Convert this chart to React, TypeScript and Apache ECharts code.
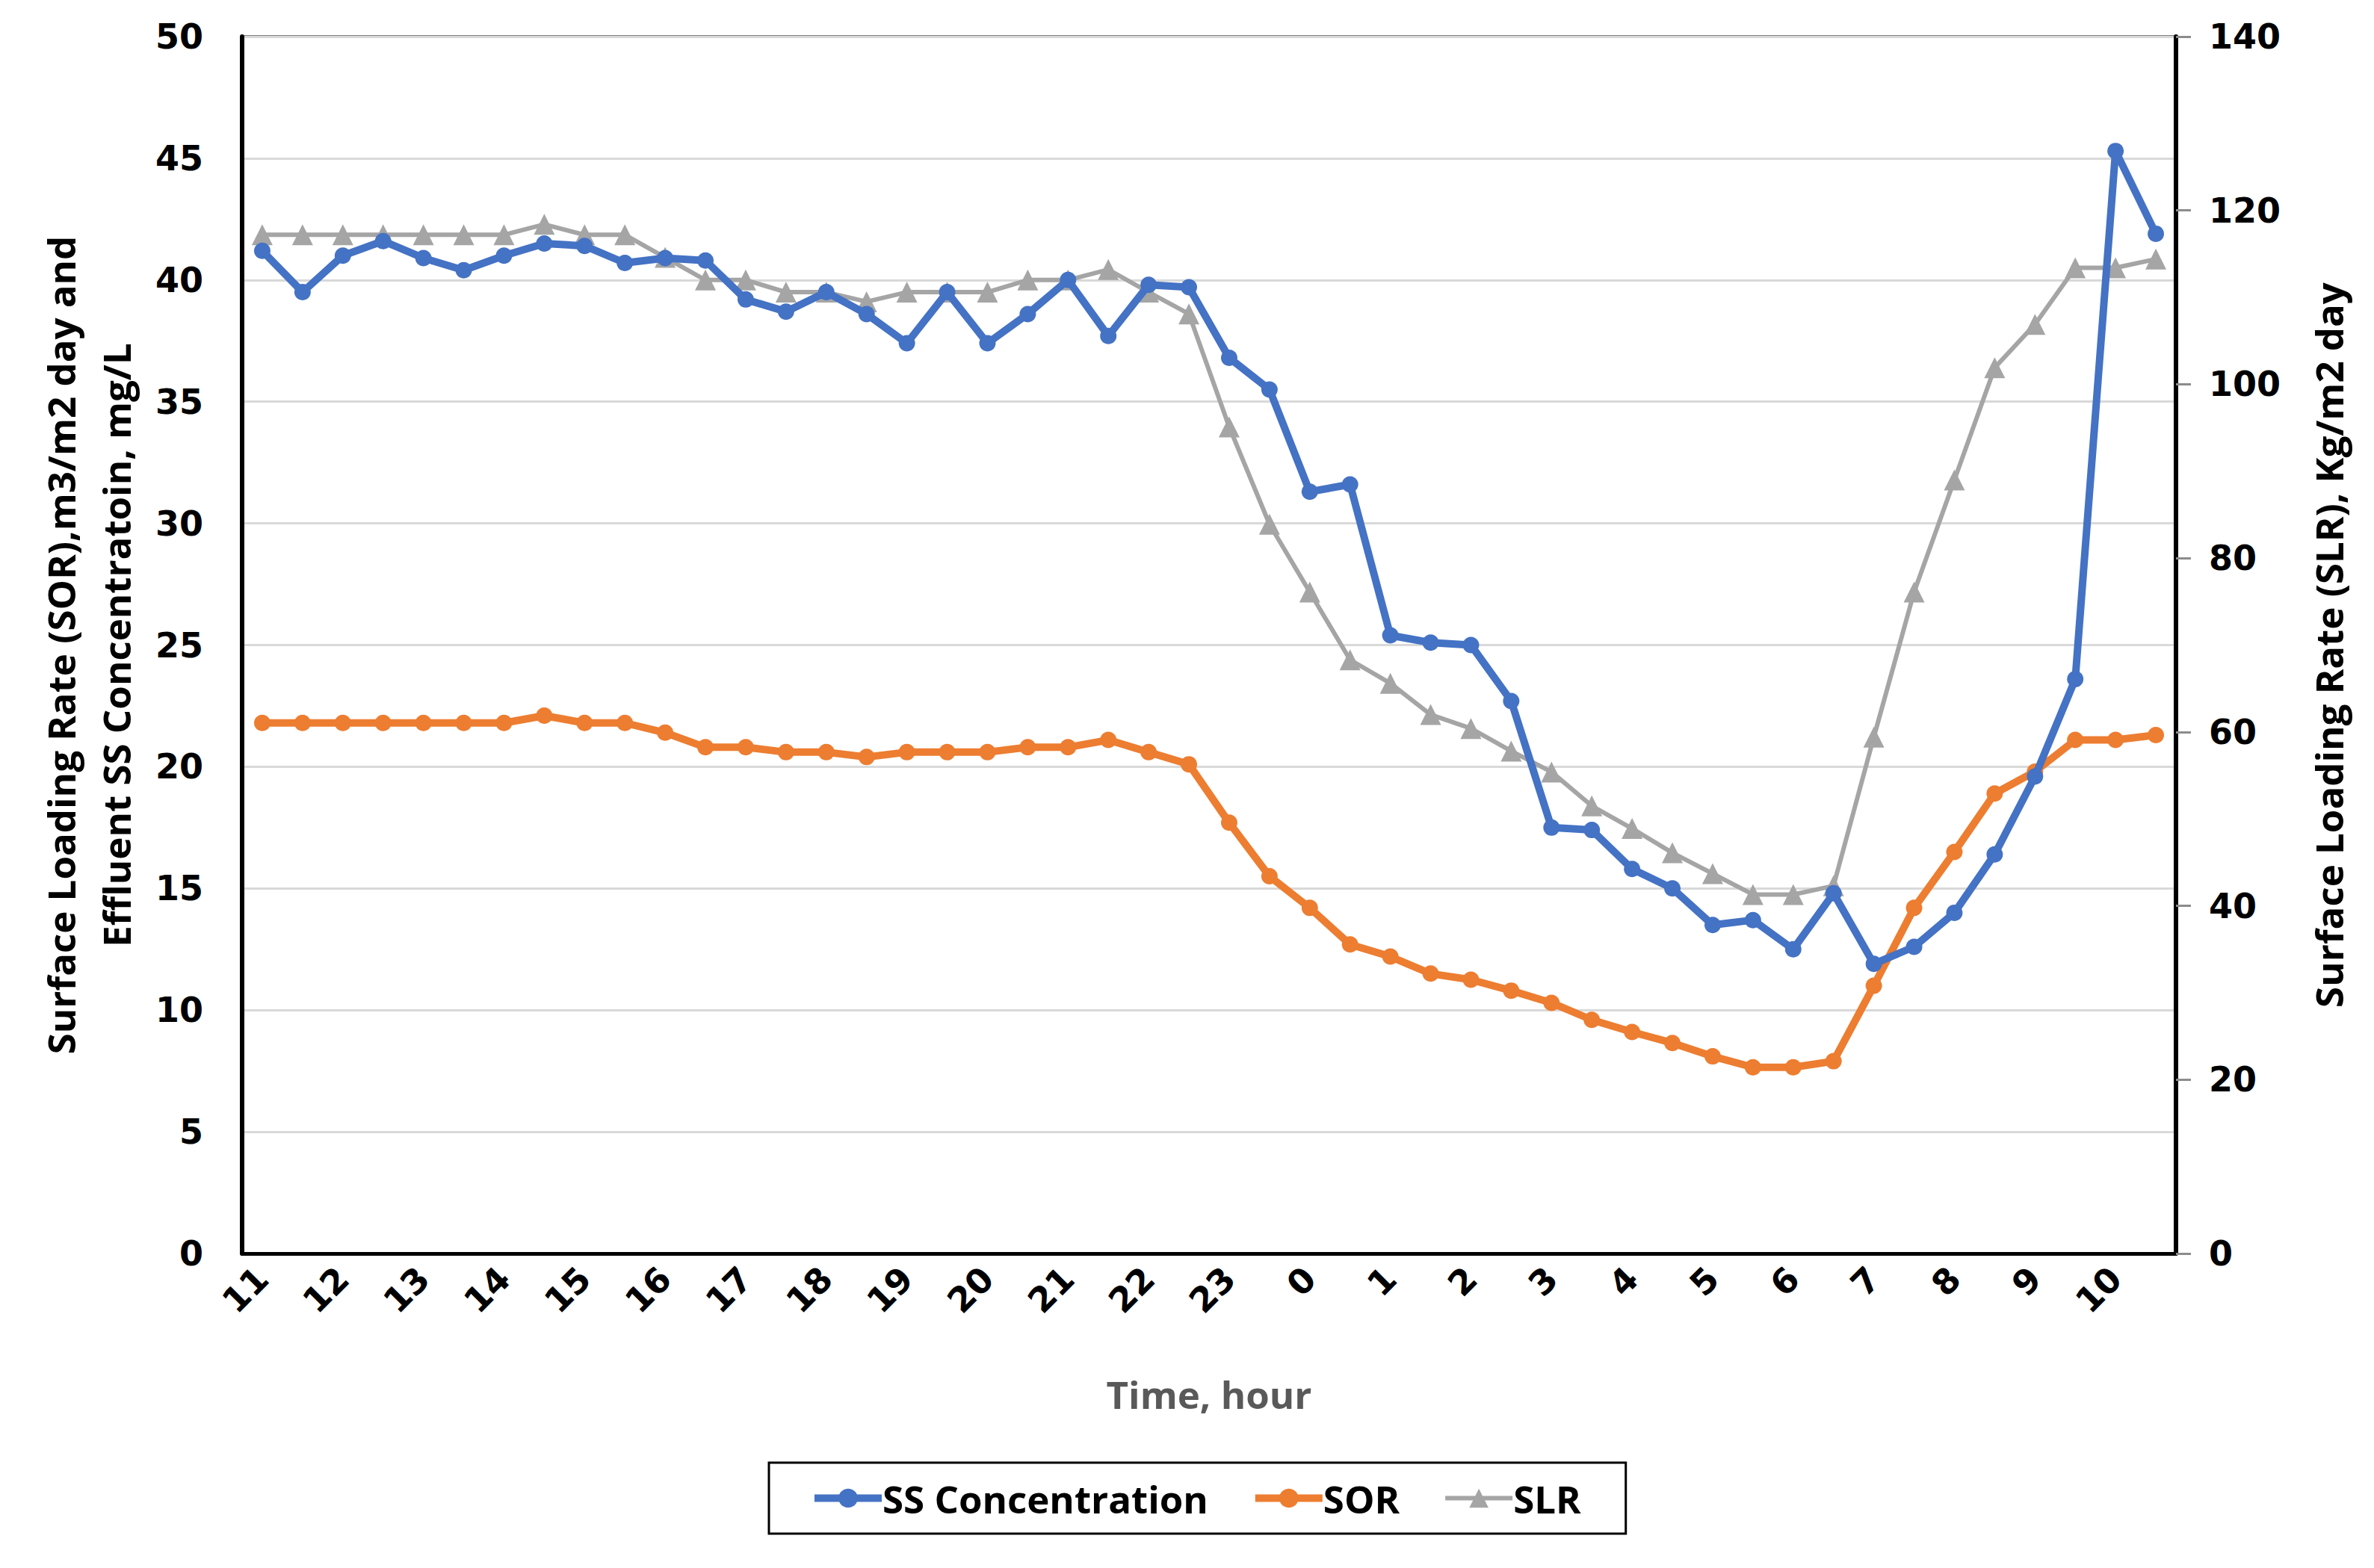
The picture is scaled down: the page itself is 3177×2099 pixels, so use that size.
import React, { useEffect, useRef } from "react";
import * as echarts from "echarts";

const times: string[] = [
  "11:00","11:30","12:00","12:30","13:00","13:30","14:00","14:30","15:00","15:30","16:00","16:30",
  "17:00","17:30","18:00","18:30","19:00","19:30","20:00","20:30","21:00","21:30","22:00","22:30",
  "23:00","23:30","0:00","0:30","1:00","1:30","2:00","2:30","3:00","3:30","4:00","4:30",
  "5:00","5:30","6:00","6:30","7:00","7:30","8:00","8:30","9:00","9:30","10:00","10:30",
];

const ssConcentration: number[] = [
  41.2, 39.5, 41.0, 41.6, 40.9, 40.4, 41.0, 41.5, 41.4, 40.7, 40.9, 40.8,
  39.2, 38.7, 39.5, 38.6, 37.4, 39.5, 37.4, 38.6, 40.0, 37.7, 39.8, 39.7,
  36.8, 35.5, 31.3, 31.6, 25.4, 25.1, 25.0, 22.7, 17.5, 17.4, 15.8, 15.0,
  13.5, 13.7, 12.5, 14.8, 11.9, 12.6, 14.0, 16.4, 19.6, 23.6, 45.3, 41.9,
];

const sor: number[] = [
  21.8, 21.8, 21.8, 21.8, 21.8, 21.8, 21.8, 22.1, 21.8, 21.8, 21.4, 20.8,
  20.8, 20.6, 20.6, 20.4, 20.6, 20.6, 20.6, 20.8, 20.8, 21.1, 20.6, 20.1,
  17.7, 15.5, 14.2, 12.7, 12.2, 11.5, 11.25, 10.8, 10.3, 9.6, 9.1, 8.65,
  8.1, 7.65, 7.65, 7.9, 11.0, 14.2, 16.5, 18.9, 19.8, 21.1, 21.1, 21.3,
];

const slr: number[] = [
  117.2, 117.2, 117.2, 117.2, 117.2, 117.2, 117.2, 118.4, 117.2, 117.2, 114.6, 112.0,
  112.0, 110.6, 110.6, 109.5, 110.6, 110.6, 110.6, 112.0, 112.0, 113.2, 110.6, 108.1,
  95.1, 83.9, 76.1, 68.3, 65.6, 62.0, 60.4, 57.8, 55.4, 51.5, 48.9, 46.1,
  43.7, 41.3, 41.3, 42.3, 59.4, 76.1, 89.0, 101.9, 106.9, 113.4, 113.4, 114.4,
];

const seriesNames: string[] = ["SS Concentration", "SOR", "SLR"];
const seriesColors: string[] = ["#4472C4", "#ED7D31", "#A5A5A5"];
const leftTitle = "Surface Loading Rate (SOR),m3/m2 day and\nEffluent SS Concentratoin, mg/L";
const rightTitle = "Surface Loading Rate (SLR), Kg/m2 day";
const xTitle = "Time, hour";

export default function App() {
  const ref = useRef<HTMLDivElement>(null);
  useEffect(() => {
    if (!ref.current) return;
    const chart = echarts.init(ref.current, undefined, { renderer: "svg" });
    const tickFont = {
      fontFamily: "DejaVu Sans",
      fontWeight: "bold" as const,
      fontSize: 46,
      color: "#000",
    };
    const titleFont = {
      fontFamily: "Open Sans",
      fontWeight: "bold" as const,
      fontSize: 51,
    };
    chart.setOption({
      animation: false,
      backgroundColor: "#fff",
      grid: {
        left: 316,
        right: 257,
        top: 41,
        bottom: 413,
        show: true,
        borderColor: "#000",
        borderWidth: 3,
        containLabel: false,
      },
      legend: {
        data: [
          { name: seriesNames[0], lineStyle: { width: 10, color: seriesColors[0] } },
          { name: seriesNames[1], lineStyle: { width: 10, color: seriesColors[1] } },
          { name: seriesNames[2], lineStyle: { width: 6, color: seriesColors[2] } },
        ],
        left: 1021,
        top: 1950,
        orient: "horizontal",
        borderColor: "#000",
        borderWidth: 3,
        padding: [22, 60, 22, 56],
        itemGap: 58,
        itemWidth: 90,
        itemHeight: 32,
        textStyle: { ...titleFont, color: "#000", padding: [0, 0, 0, -4] },
      },
      xAxis: {
        type: "category",
        data: times,
        boundaryGap: true,
        name: xTitle,
        nameLocation: "middle",
        nameGap: 162,
        nameTextStyle: { ...titleFont, color: "#595959" },
        axisLine: { show: true, lineStyle: { color: "#000", width: 5 } },
        axisTick: { show: false },
        axisLabel: {
          ...tickFont,
          interval: 1,
          rotate: 45,
          margin: 26,
          formatter: (v: string) => v.split(":")[0],
        },
        splitLine: { show: false },
      },
      yAxis: [
        {
          type: "value",
          min: 0,
          max: 50,
          interval: 5,
          position: "left",
          name: leftTitle,
          nameLocation: "middle",
          nameRotate: 90,
          nameGap: 132,
          nameTextStyle: { ...titleFont, color: "#000", lineHeight: 74 },
          axisLine: { show: true, lineStyle: { color: "#000", width: 6 } },
          axisTick: { show: false },
          axisLabel: { ...tickFont, margin: 52 },
          splitLine: { show: true, lineStyle: { color: "#d9d9d9", width: 3 } },
        },
        {
          type: "value",
          min: 0,
          max: 140,
          interval: 20,
          position: "right",
          name: rightTitle,
          nameLocation: "middle",
          nameRotate: 90,
          nameGap: 178,
          nameTextStyle: { ...titleFont, color: "#000" },
          axisLine: { show: true, lineStyle: { color: "#000", width: 6 } },
          axisTick: { show: true, inside: false, length: 20, lineStyle: { color: "#8c8c8c", width: 3 } },
          axisLabel: { ...tickFont, margin: 44 },
          splitLine: { show: false },
        },
      ],
      series: [
        {
          name: seriesNames[0],
          type: "line",
          yAxisIndex: 0,
          data: ssConcentration,
          symbol: "circle",
          symbolSize: 22,
          lineStyle: { color: seriesColors[0], width: 10 },
          itemStyle: { color: seriesColors[0] },
          z: 4,
        },
        {
          name: seriesNames[1],
          type: "line",
          yAxisIndex: 0,
          data: sor,
          symbol: "circle",
          symbolSize: 22,
          lineStyle: { color: seriesColors[1], width: 10 },
          itemStyle: { color: seriesColors[1] },
          z: 3,
        },
        {
          name: seriesNames[2],
          type: "line",
          yAxisIndex: 1,
          data: slr,
          symbol: "triangle",
          symbolSize: 28,
          lineStyle: { color: seriesColors[2], width: 6 },
          itemStyle: { color: seriesColors[2] },
          z: 2,
        },
      ],
    });
    return () => chart.dispose();
  }, []);
  return <div ref={ref} style={{ width: 3161, height: 2083 }} />;
}
